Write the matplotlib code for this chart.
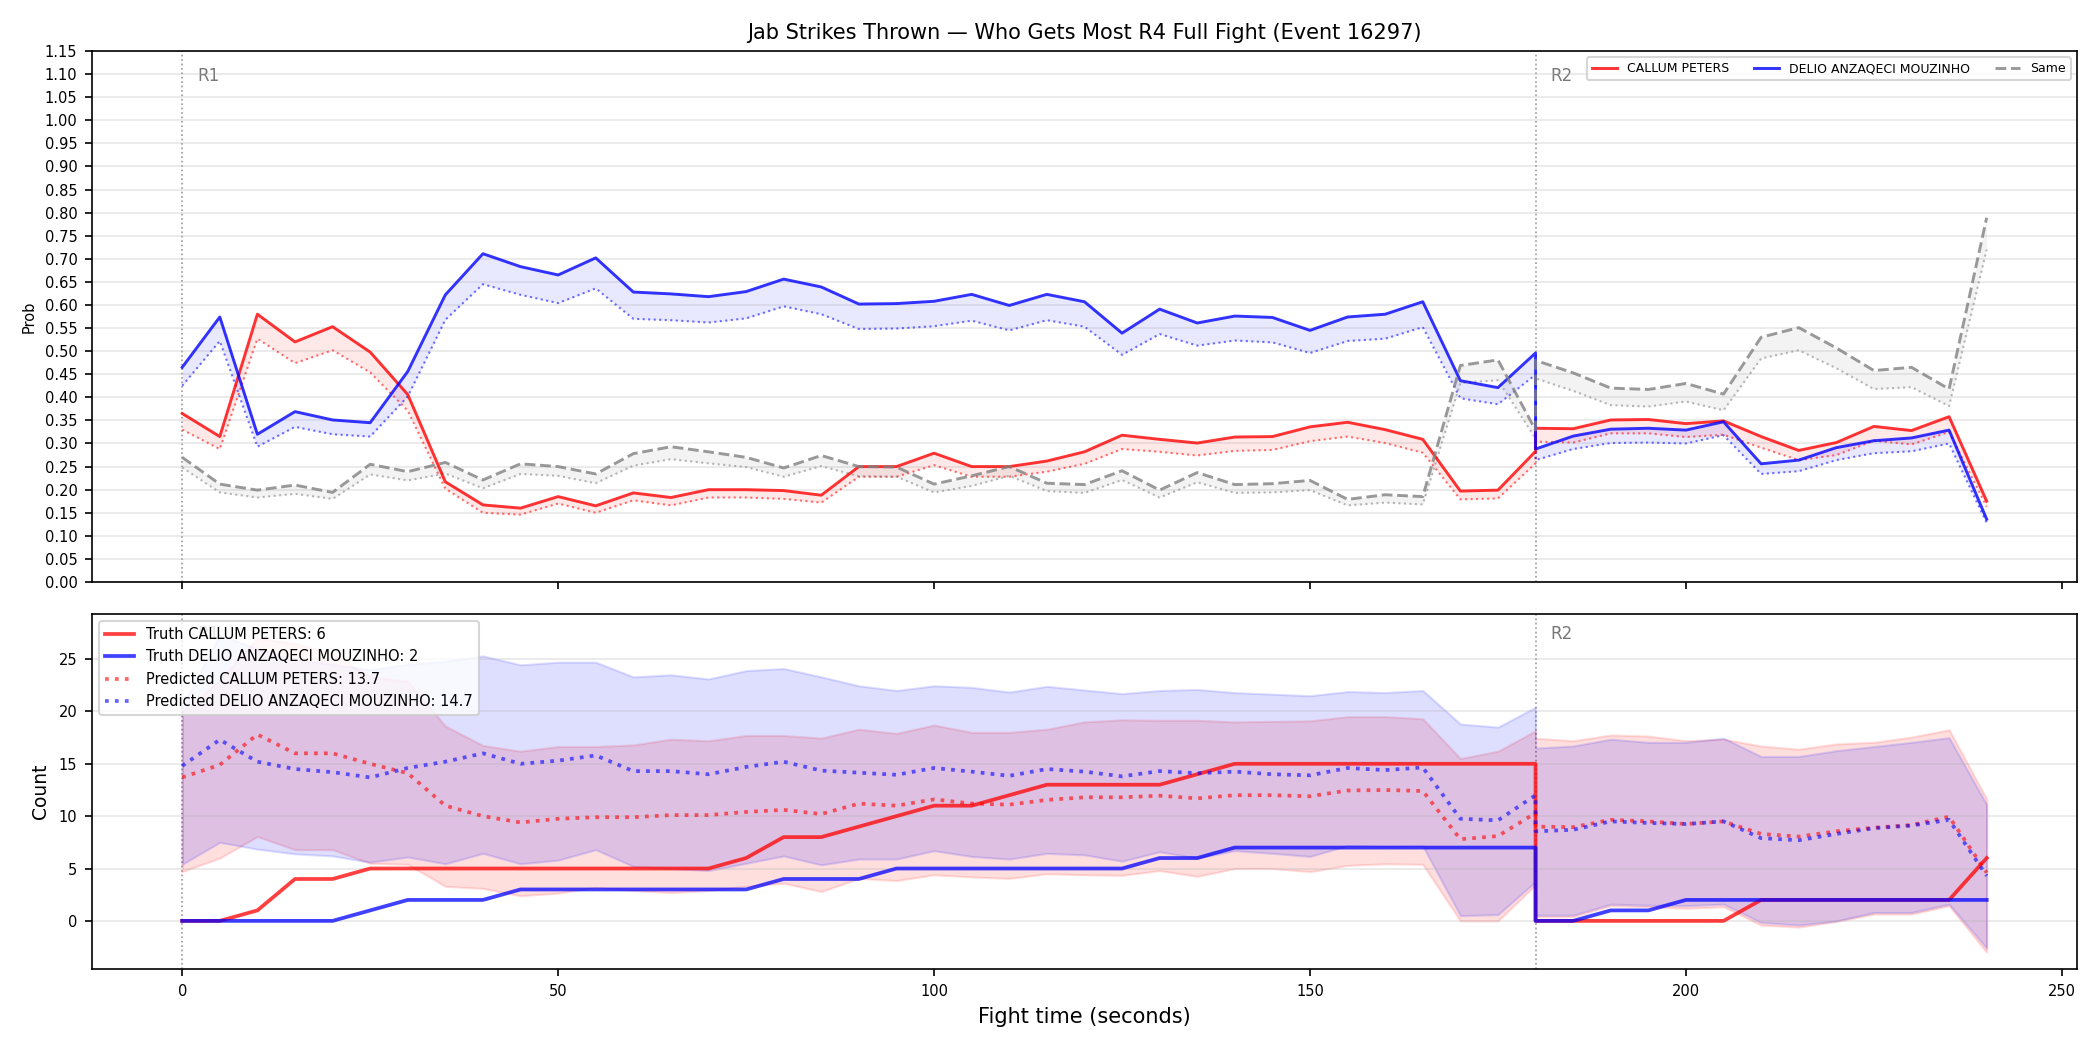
import matplotlib
matplotlib.use("Agg")
import matplotlib.pyplot as plt
import matplotlib.transforms as mtransforms

# ---------------- data ----------------
time = [0, 5, 10, 15, 20, 25, 30, 35, 40, 45, 50, 55, 60, 65, 70, 75, 80, 85, 90,
        95, 100, 105, 110, 115, 120, 125, 130, 135, 140, 145, 150, 155, 160, 165,
        170, 175, 180,
        180, 185, 190, 195, 200, 205, 210, 215, 220, 225, 230, 235, 240]

round_starts = [0, 180]
round_labels = ["R1", "R2"]

fighter_a = "CALLUM PETERS"
fighter_b = "DELIO ANZAQECI MOUZINHO"

# top panel: probabilities (solid) and lower dotted bounds
prob_a = [.365, .315, .580, .520, .553, .498, .406, .217, .167, .160, .185, .165, .193, .183,
          .200, .200, .198, .188, .250, .250, .279, .250, .250, .262, .282, .318, .309, .301,
          .314, .315, .336, .346, .330, .309, .197, .199, .283,
          .333, .332, .351, .352, .343, .349, .315, .285, .302, .337, .328, .358, .175]
prob_a_lo = [.330, .288, .527, .474, .502, .454, .371, .202, .150, .146, .170, .150, .177, .166,
             .183, .183, .180, .172, .228, .228, .253, .228, .228, .239, .256, .288, .282, .274,
             .284, .286, .305, .315, .301, .280, .179, .181, .257,
             .304, .302, .322, .322, .314, .319, .291, .264, .275, .306, .298, .325, .163]
prob_b = [.465, .574, .320, .369, .351, .345, .456, .622, .711, .683, .665, .702, .628, .624,
          .618, .629, .656, .639, .602, .603, .608, .623, .599, .623, .607, .539, .591, .561,
          .576, .573, .545, .574, .580, .607, .436, .421, .496,
          .288, .316, .331, .333, .329, .347, .256, .264, .291, .306, .312, .329, .136]
prob_b_lo = [.425, .522, .293, .336, .320, .315, .402, .568, .645, .622, .604, .636, .570, .567,
             .562, .571, .597, .580, .548, .549, .554, .566, .545, .567, .553, .492, .537, .512,
             .523, .519, .496, .522, .527, .552, .398, .385, .449,
             .264, .288, .301, .302, .300, .318, .234, .240, .264, .279, .283, .300, .128]
prob_same = [.270, .212, .199, .210, .194, .255, .239, .259, .221, .256, .250, .234, .278, .293,
             .282, .270, .247, .274, .250, .249, .212, .230, .250, .214, .211, .241, .199, .237,
             .211, .213, .220, .179, .189, .185, .469, .481, .329,
             .480, .453, .420, .417, .430, .407, .530, .551, .507, .458, .465, .418, .789]
prob_same_lo = [.248, .194, .183, .191, .180, .233, .220, .235, .203, .234, .230, .214, .252, .266,
                .257, .249, .228, .251, .229, .228, .194, .208, .230, .197, .193, .221, .183, .216,
                .193, .194, .199, .166, .172, .168, .431, .437, .311,
                .441, .414, .383, .380, .391, .372, .484, .502, .463, .418, .422, .381, .720]

# bottom panel: counts
truth_a = [0, 0, 1, 4, 4, 5, 5, 5, 5, 5, 5, 5, 5, 5, 5, 6, 8, 8, 9, 10, 11, 11, 12, 13, 13,
           13, 13, 14, 15, 15, 15, 15, 15, 15, 15, 15, 15,
           0, 0, 0, 0, 0, 0, 2, 2, 2, 2, 2, 2, 6]
truth_b = [0, 0, 0, 0, 0, 1, 2, 2, 2, 3, 3, 3, 3, 3, 3, 3, 4, 4, 4, 5, 5, 5, 5, 5, 5,
           5, 6, 6, 7, 7, 7, 7, 7, 7, 7, 7, 7,
           0, 0, 1, 1, 2, 2, 2, 2, 2, 2, 2, 2, 2]
pred_a = [13.7, 14.9, 17.8, 16.0, 16.0, 15.0, 14.1, 11.0, 10.0, 9.4, 9.75, 9.9, 9.9, 10.1,
          10.1, 10.4, 10.6, 10.2, 11.2, 11.0, 11.6, 11.2, 11.1, 11.55, 11.8, 11.8, 11.95, 11.7,
          12.0, 12.0, 11.9, 12.45, 12.5, 12.4, 7.8, 8.1, 10.3,
          9.0, 8.95, 9.65, 9.5, 9.25, 9.5, 8.3, 8.05, 8.55, 8.9, 9.15, 9.95, 4.6]
pred_b = [14.8, 17.3, 15.2, 14.5, 14.2, 13.7, 14.6, 15.2, 16.0, 15.0, 15.3, 15.8, 14.3, 14.3,
          14.0, 14.7, 15.2, 14.35, 14.15, 13.95, 14.6, 14.25, 13.85, 14.5, 14.25, 13.8, 14.3,
          14.1, 14.25, 14.0, 13.9, 14.6, 14.4, 14.65, 9.75, 9.6, 12.0,
          8.55, 8.7, 9.5, 9.35, 9.25, 9.5, 7.9, 7.7, 8.3, 8.85, 9.1, 9.65, 4.3]
pred_a_hi = [20.0, 23.0, 27.0, 26.5, 25.5, 23.3, 22.9, 18.6, 16.75, 16.2, 16.65, 16.65, 16.8,
             17.35, 17.2, 17.7, 17.7, 17.45, 18.3, 17.9, 18.7, 18.0, 18.0, 18.3, 19.0, 19.2,
             19.15, 19.15, 19.0, 19.05, 19.1, 19.5, 19.5, 19.3, 15.5, 16.2, 18.15,
             17.45, 17.2, 17.75, 17.65, 17.2, 17.35, 16.7, 16.4, 16.9, 17.05, 17.55, 18.25, 11.65]
pred_a_lo = [4.7, 6.0, 8.05, 6.8, 6.8, 5.5, 5.4, 3.3, 3.1, 2.4, 2.65, 3.2, 2.9, 2.7, 2.9, 3.3,
             3.6, 2.8, 4.05, 3.85, 4.4, 4.2, 4.05, 4.5, 4.4, 4.35, 4.8, 4.25, 5.0, 5.0, 4.7, 5.3,
             5.45, 5.4, 0.0, 0.0, 3.45,
             0.4, 0.4, 1.45, 1.35, 1.2, 1.35, -0.4, -0.6, -0.05, 0.65, 0.65, 1.45, -3.0]
pred_b_hi = [20.5, 27.3, 26.0, 25.0, 24.5, 24.0, 24.5, 24.8, 25.3, 24.45, 24.7, 24.7, 23.3, 23.5,
             23.1, 23.9, 24.1, 23.3, 22.45, 22.0, 22.45, 22.3, 21.85, 22.4, 22.05, 21.7, 22.0,
             22.1, 21.8, 21.65, 21.5, 21.9, 21.8, 22.0, 18.8, 18.5, 20.4,
             16.5, 16.7, 17.35, 17.05, 17.05, 17.45, 15.7, 15.7, 16.25, 16.65, 17.05, 17.5, 11.1]
pred_b_lo = [5.4, 7.5, 6.85, 6.4, 6.2, 5.6, 6.1, 5.45, 6.45, 5.45, 5.8, 6.8, 5.2, 5.0, 4.8, 5.5,
             6.2, 5.35, 5.9, 5.9, 6.7, 6.15, 5.9, 6.45, 6.3, 5.7, 6.6, 6.0, 6.7, 6.45, 6.15, 7.2,
             7.1, 7.15, 0.5, 0.6, 3.75,
             0.55, 0.55, 1.6, 1.5, 1.45, 1.6, -0.15, -0.4, 0.0, 0.8, 0.8, 1.6, -2.6]

final_truth = [6, 2]
final_pred = [13.7, 14.7]

prob_ticks = [i * 0.05 for i in range(24)]
count_ticks = [0, 5, 10, 15, 20, 25]

title = "Jab Strikes Thrown \u2014 Who Gets Most R4 Full Fight (Event 16297)"

# ---------------- figure ----------------
fig = plt.figure(figsize=(14, 7), dpi=150)
ax1 = fig.add_axes([0.0438, 0.4457, 0.9452, 0.5057])
ax2 = fig.add_axes([0.0438, 0.0771, 0.9452, 0.3381], sharex=ax1)

RED = "#ff0000"
BLUE = "#0000ff"

# top panel
for y, lo, col in [(prob_a, prob_a_lo, RED), (prob_b, prob_b_lo, BLUE)]:
    ax1.fill_between(time, lo, y, color=col, alpha=0.09, linewidth=0)
    ax1.plot(time, lo, color=col, linestyle=":", linewidth=1.0, alpha=0.55)
ax1.fill_between(time, prob_same_lo, prob_same, color="gray", alpha=0.09, linewidth=0)
ax1.plot(time, prob_same_lo, color="gray", linestyle=":", linewidth=1.0, alpha=0.55)
ax1.plot(time, prob_a, color=RED, linewidth=1.4, alpha=0.8, label=fighter_a)
ax1.plot(time, prob_b, color=BLUE, linewidth=1.4, alpha=0.8, label=fighter_b)
ax1.plot(time, prob_same, color="gray", linestyle="--", linewidth=1.4, alpha=0.8, label="Same")

ax1.set_ylim(0, 1.15)
ax1.set_yticks(prob_ticks)
ax1.set_yticklabels([f"{t:.2f}" for t in prob_ticks])
ax1.tick_params(axis="y", labelsize=7)
ax1.tick_params(axis="x", labelbottom=False)
ax1.set_ylabel("Prob", fontsize=7)
ax1.grid(axis="y", alpha=0.3)
ax1.set_title(title, fontsize=10)
ax1.legend(loc="upper right", ncol=3, fontsize=6)

# bottom panel
ax2.fill_between(time, pred_a_lo, pred_a_hi, color=RED, alpha=0.13)
ax2.fill_between(time, pred_b_lo, pred_b_hi, color=BLUE, alpha=0.13)
ax2.plot(time, truth_a, color=RED, linewidth=1.8, alpha=0.75,
         label=f"Truth {fighter_a}: {final_truth[0]}")
ax2.plot(time, truth_b, color=BLUE, linewidth=1.8, alpha=0.75,
         label=f"Truth {fighter_b}: {final_truth[1]}")
ax2.plot(time, pred_a, color=RED, linestyle=":", linewidth=1.8, alpha=0.6,
         label=f"Predicted {fighter_a}: {final_pred[0]}")
ax2.plot(time, pred_b, color=BLUE, linestyle=":", linewidth=1.8, alpha=0.6,
         label=f"Predicted {fighter_b}: {final_pred[1]}")
ax2.set_ylim(-4.6, 29.3)
ax2.set_yticks(count_ticks)
ax2.tick_params(axis="both", labelsize=7)
ax2.set_ylabel("Count", fontsize=9)
ax2.set_xlabel("Fight time (seconds)", fontsize=10)
ax2.grid(axis="y", alpha=0.3)
ax2.set_xlim(-12, 252)
leg2 = ax2.legend(loc="upper left", fontsize=7)
leg2.set_zorder(5)

for ax in (ax1, ax2):
    trans = mtransforms.blended_transform_factory(ax.transData, ax.transAxes)
    for xs, lab in zip(round_starts, round_labels):
        ax.axvline(xs, color="gray", linestyle=":", linewidth=0.8, alpha=0.8, zorder=0.5)
        ax.text(xs + 2, 0.97, lab, transform=trans, va="top", ha="left",
                fontsize=8, color="dimgray", alpha=0.9, zorder=0.6)

fig.savefig("out.png", dpi=150)
